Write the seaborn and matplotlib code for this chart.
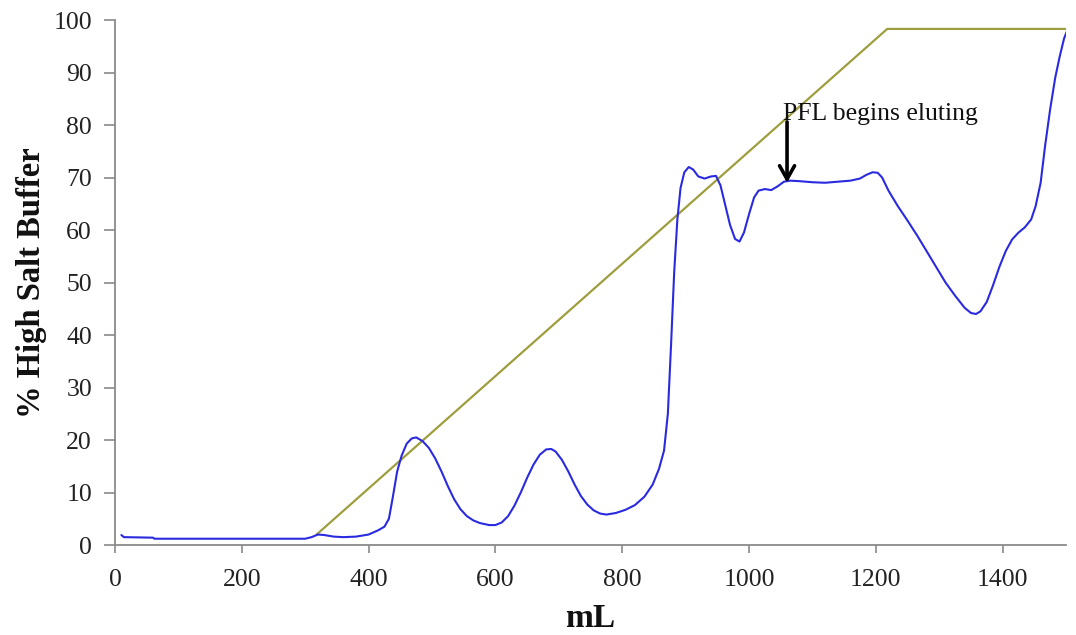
import matplotlib
matplotlib.use("Agg")
import matplotlib.pyplot as plt
import seaborn as sns
import pandas as pd

# Elution trace (UV signal on the % scale) versus volume
trace_ml = [10, 14, 60, 62, 300, 310, 320, 330, 345, 360, 380, 400, 415, 425, 432, 438,
            445, 452, 460, 468, 475, 485, 495, 505, 515, 525, 535, 545, 555, 565, 575,
            590, 600, 610, 620, 630, 640, 650, 660, 670, 680, 688, 695, 705, 715, 725,
            735, 745, 755, 765, 775, 790, 805, 820, 835, 848, 858, 866, 872, 877, 882,
            887, 892, 898, 905, 912, 920, 930, 940, 948, 955, 962, 970, 978, 985, 992,
            1000, 1008, 1015, 1025, 1035, 1045, 1055, 1065, 1080, 1100, 1120, 1140, 1160,
            1175, 1185, 1195, 1203, 1210, 1220, 1235, 1250, 1265, 1280, 1295, 1310, 1325,
            1340, 1350, 1358, 1365, 1375, 1385, 1395, 1405, 1415, 1425, 1435, 1445, 1452,
            1460, 1467, 1475, 1483, 1490, 1497, 1502]
trace_val = [1.9, 1.5, 1.4, 1.2, 1.2, 1.5, 2.0, 1.9, 1.6, 1.5, 1.6, 2.0, 2.8, 3.5, 5, 9,
             14, 17, 19.3, 20.3, 20.5, 19.8, 18.5, 16.5, 14, 11.2, 8.7, 6.8, 5.5, 4.7, 4.2,
             3.8, 3.8, 4.3, 5.5, 7.5, 10, 12.8, 15.3, 17.2, 18.2, 18.3, 17.8, 16.2, 14, 11.5,
             9.3, 7.7, 6.6, 6.0, 5.8, 6.1, 6.7, 7.6, 9.2, 11.5, 14.5, 18, 25, 38, 52,
             62, 68, 71, 72, 71.5, 70.2, 69.8, 70.2, 70.3, 68.5, 65, 61, 58.3, 57.8, 59.5,
             63, 66.2, 67.5, 67.8, 67.6, 68.3, 69.2, 69.4, 69.3, 69.1, 69.0, 69.2, 69.4,
             69.8, 70.5, 71.0, 70.9, 70.0, 67.5, 64.5, 61.8, 59, 56, 53, 50, 47.5,
             45.2, 44.2, 44.0, 44.5, 46.3, 49.5, 53, 56, 58.2, 59.5, 60.5, 62, 64.5,
             69, 76, 83, 89, 93, 96.5, 98]

# Salt gradient program
gradient_ml = [318, 1218, 1500]
gradient_pct = [2.0, 98.3, 98.3]

x_ticks = [0, 200, 400, 600, 800, 1000, 1200, 1400]
y_ticks = [0, 10, 20, 30, 40, 50, 60, 70, 80, 90, 100]

sns.set_theme(style="white")
plt.rcParams["font.family"] = ["Liberation Serif", "DejaVu Serif"]

trace = pd.DataFrame({"mL": trace_ml, "value": trace_val})
gradient = pd.DataFrame({"mL": gradient_ml, "value": gradient_pct})

fig = plt.figure(figsize=(10.76, 6.35), dpi=100)
ax = fig.add_axes([0.1069, 0.1417, 0.8838, 0.8268])

sns.lineplot(data=gradient, x="mL", y="value", ax=ax, color="#9e9e3e", linewidth=1.6)
sns.lineplot(data=trace, x="mL", y="value", ax=ax, color="#2a2ae0", linewidth=1.5)

ax.set_xlim(0, 1500)
ax.set_ylim(0, 100)
ax.set_xticks(x_ticks)
ax.set_yticks(y_ticks)
ax.tick_params(axis="both", labelsize=18.5, labelcolor="#222222", color="#8a8a8a",
               width=1.2, direction="out", bottom=True, left=True)
ax.tick_params(axis="x", length=6, pad=11)
ax.tick_params(axis="y", length=8, pad=8.5)

for side in ("top", "right"):
    ax.spines[side].set_visible(False)
for side in ("left", "bottom"):
    ax.spines[side].set_color("#8a8a8a")
    ax.spines[side].set_linewidth(1.3)

ax.set_xlabel("mL", fontsize=24, fontweight="bold", color="#111111", labelpad=9)
ax.set_ylabel("% High Salt Buffer", fontsize=23.5, fontweight="bold", color="#111111", labelpad=5)

ax.annotate("", xy=(1060, 69.0), xytext=(1060, 80.6),
            arrowprops=dict(arrowstyle="->,head_width=0.45,head_length=0.8",
                            color="black", lw=2.6, shrinkA=0, shrinkB=0))
ax.text(1054, 80.9, "PFL begins eluting", fontsize=18.5, color="#111111",
        ha="left", va="baseline")

fig.savefig("out.png", dpi=100)
